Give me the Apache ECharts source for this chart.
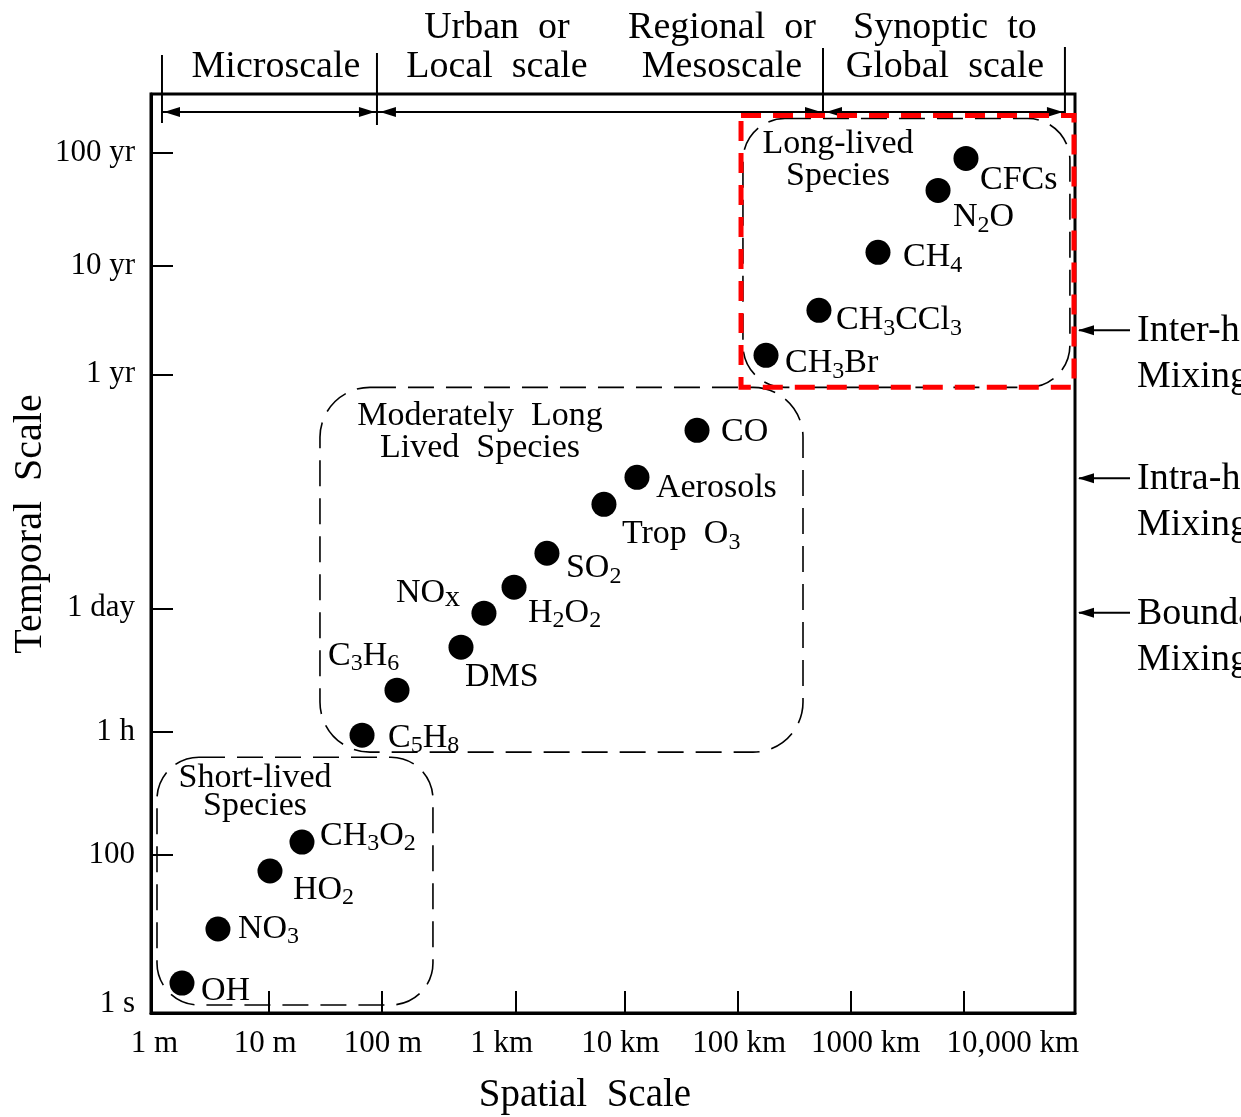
<!DOCTYPE html>
<html><head><meta charset="utf-8">
<script src="https://cdn.jsdelivr.net/npm/echarts@6/dist/echarts.min.js"></script>
<style>html,body{margin:0;padding:0;background:#fff}#c{width:1241px;height:1117px}</style>
</head><body><div id="c"></div>
<script>
const SERIF = '"Liberation Serif","Times New Roman",serif';

// Axis units are the schematic "decades" of the drawing (not a strict log scale)
const xMin = 0, xMax = 8.17, yMin = 0, yMax = 8.13;
const xTickPos = [1.043, 2.042, 3.227, 4.19, 5.19, 6.19, 7.19];
const xLabelPos = [0.03, 1.01, 2.05, 3.10, 4.15, 5.20, 6.32, 7.62];
const xLabels = ['1 m', '10 m', '100 m', '1 km', '10 km', '100 km', '1000 km', '10,000 km'];
const yTickPos = [1.40, 2.49, 3.58, 5.65, 6.61, 7.61];
const yLabelPos = [0.08, 1.40, 2.49, 3.58, 5.65, 6.61, 7.61];
const yLabels = ['1 s', '100', '1 h', '1 day', '1 yr', '10 yr', '100 yr'];

// Species (spatial position, temporal position)
const species = ['OH', 'NO3', 'HO2', 'CH3O2', 'C5H8', 'C3H6', 'DMS', 'NOx', 'H2O2', 'SO2', 'Trop O3', 'Aerosols', 'CO', 'CFCs', 'N2O', 'CH4', 'CH3CCl3', 'CH3Br'];
const spatial = [0.274, 0.592, 1.052, 1.335, 1.866, 2.175, 2.741, 2.944, 3.210, 3.501, 4.005, 4.297, 4.828, 7.206, 6.959, 6.428, 5.906, 5.438];
const temporal = [0.265, 0.743, 1.256, 1.512, 2.458, 2.856, 3.236, 3.537, 3.767, 4.067, 4.500, 4.739, 5.155, 7.560, 7.277, 6.729, 6.216, 5.818];

// Species groups (boxes)
const groupTitles = ['Short-lived\nSpecies', 'Moderately  Long\nLived  Species', 'Long-lived\nSpecies'];
const groupX0 = [0.053, 1.494, 5.234];
const groupX1 = [2.493, 5.765, 8.125];
const groupY0 = [0.071, 2.308, 5.535];
const groupY1 = [2.263, 5.535, 7.913];
const groupTitleX = [0.920, 2.909, 6.074];
const groupTitleY = [1.950, 5.137, 7.542];

// Highlight box (red)
const highlightBox = [5.217, 8.161, 5.535, 7.940];

// Spatial scale bands along the top
const scaleBounds = [0.097, 1.998, 5.942, 8.081];
const scaleNames = [['', 'Microscale'], ['Urban  or', 'Local  scale'], ['Regional  or', 'Mesoscale'], ['Synoptic  to', 'Global  scale']];
const scaleNameX = [1.105, 3.059, 5.049, 7.020];

// Mixing levels on the right
const mixingLevels = [6.04, 4.73, 3.54];
const mixingNames = [['Inter-hemispheric', 'Mixing'], ['Intra-hemispheric', 'Mixing'], ['Boundary Layer', 'Mixing']];

// Axis titles
const xTitle = 'Spatial  Scale';
const yTitle = 'Temporal  Scale';

// ---- presentation ----
const labelRich = {
  'OH': 'OH', 'NO3': 'NO{s|3}', 'HO2': 'HO{s|2}', 'CH3O2': 'CH{s|3}O{s|2}',
  'C5H8': 'C{s|5}H{s|8}', 'C3H6': 'C{s|3}H{s|6}', 'DMS': 'DMS', 'NOx': 'NO{x|x}',
  'H2O2': 'H{s|2}O{s|2}', 'SO2': 'SO{s|2}', 'Trop O3': 'Trop  O{s|3}', 'Aerosols': 'Aerosols',
  'CO': 'CO', 'CFCs': 'CFCs', 'N2O': 'N{s|2}O', 'CH4': 'CH{s|4}', 'CH3CCl3': 'CH{s|3}CCl{s|3}', 'CH3Br': 'CH{s|3}Br'
};
const labelOffset = {
  'OH': [19, 8], 'NO3': [20, 0], 'HO2': [23, 19], 'CH3O2': [18, -6], 'C5H8': [26, 3], 'C3H6': [-69, -34],
  'DMS': [4, 30], 'NOx': [-88, -20], 'H2O2': [14, 26], 'SO2': [19, 15], 'Trop O3': [18, 30], 'Aerosols': [19, 11],
  'CO': [24, 2], 'CFCs': [14, 22], 'N2O': [15, 27], 'CH4': [25, 5], 'CH3CCl3': [17, 10], 'CH3Br': [19, 8]
};
const rich = {
  s: { fontFamily: SERIF, fontSize: 24, lineHeight: 24, verticalAlign: 'bottom', color: '#000' },
  x: { fontFamily: SERIF, fontSize: 30, lineHeight: 30, verticalAlign: 'bottom', color: '#000' }
};

const pointData = species.map((n, i) => ({
  value: [spatial[i], temporal[i]],
  name: n,
  label: { offset: labelOffset[n] }
}));

const groupData = groupTitles.map((t, i) => [groupX0[i], groupY0[i], groupX1[i], groupY1[i], groupTitleX[i], groupTitleY[i]]);

const chart = echarts.init(document.getElementById('c'), null, { renderer: 'canvas' });

const option = {
  backgroundColor: '#fff',
  animation: false,
  grid: { left: 151, top: 94, width: 924, height: 919, show: true, borderColor: '#000', borderWidth: 3, containLabel: false, outerBoundsMode: 'none' },
  xAxis: {
    type: 'value', min: xMin, max: xMax,
    axisLine: { show: true, lineStyle: { color: '#000', width: 3 } },
    splitLine: { show: false },
    axisTick: { show: true, inside: true, length: 22, customValues: xTickPos, lineStyle: { color: '#000', width: 2 } },
    axisLabel: {
      customValues: xLabelPos, margin: 15, fontFamily: SERIF, fontSize: 31, color: '#000',
      formatter: v => xLabels[xLabelPos.findIndex(p => Math.abs(p - v) < 1e-6)] || ''
    }
  },
  yAxis: {
    type: 'value', min: yMin, max: yMax,
    axisLine: { show: true, lineStyle: { color: '#000', width: 3 } },
    splitLine: { show: false },
    axisTick: { show: true, inside: true, length: 22, customValues: yTickPos, lineStyle: { color: '#000', width: 2 } },
    axisLabel: {
      customValues: yLabelPos, margin: 16, fontFamily: SERIF, fontSize: 31, color: '#000',
      formatter: v => yLabels[yLabelPos.findIndex(p => Math.abs(p - v) < 1e-6)] || ''
    }
  },
  series: [
    {
      type: 'custom', name: 'groups', z: 1,
      data: groupData,
      encode: { x: [0, 2], y: [1, 3] },
      renderItem: (params, api) => {
        const i = params.dataIndex;
        const tl = api.coord([api.value(0), api.value(3)]);
        const br = api.coord([api.value(2), api.value(1)]);
        const tc = api.coord([api.value(4), api.value(5)]);
        return {
          type: 'group',
          children: [
            { type: 'rect', shape: { x: tl[0], y: tl[1], width: br[0] - tl[0], height: br[1] - tl[1], r: i === 1 ? 50 : 42 },
              style: { fill: 'none', stroke: '#000', lineWidth: 1.6, lineDash: [26, 12] } },
            { type: 'text', style: { text: groupTitles[i], x: tc[0], y: tc[1], align: 'center', verticalAlign: 'middle',
              fontFamily: SERIF, fontSize: 34, lineHeight: i === 0 ? 28 : 32, fill: '#000' } }
          ]
        };
      }
    },
    {
      type: 'scatter', name: 'species', z: 5,
      symbol: 'circle', symbolSize: 25,
      itemStyle: { color: '#000', opacity: 1 },
      data: pointData,
      label: {
        show: true, position: 'inside', align: 'left', verticalAlign: 'middle',
        fontFamily: SERIF, fontSize: 34, lineHeight: 40, color: '#000', opacity: 1,
        formatter: p => labelRich[p.name], rich: rich
      }
    },
    {
      type: 'custom', name: 'highlight', z: 10, clip: false,
      data: [highlightBox],
      encode: { x: [0, 1], y: [2, 3] },
      renderItem: (params, api) => {
        const tl = api.coord([api.value(0), api.value(3)]);
        const br = api.coord([api.value(1), api.value(2)]);
        return { type: 'rect', shape: { x: tl[0], y: tl[1], width: br[0] - tl[0], height: br[1] - tl[1] },
          style: { fill: 'none', stroke: '#ff0000', lineWidth: 5, lineDash: [20, 12] } };
      }
    }
  ]
};
chart.setOption(option);

// ---- annotations outside the plot: axis titles, scale bands (top) and mixing arrows (right) ----
const gfx = [];
const font38 = '38px ' + SERIF;
gfx.push({ type: 'text', x: 30, y: 524, rotation: Math.PI / 2,
  style: { text: yTitle, x: 0, y: 0, align: 'center', verticalAlign: 'middle', font: '40px ' + SERIF, fill: '#000' } });
gfx.push({ type: 'text', style: { text: xTitle, x: 585, y: 1096, align: 'center', verticalAlign: 'middle', font: '39px ' + SERIF, fill: '#000' } });

const arrowY = 112;
const bx = scaleBounds.map(v => chart.convertToPixel({ xAxisIndex: 0 }, v));
const divTop = [55, 53, 48, 47];
const divBot = [123, 125, 114, 114];
bx.forEach((x, i) => gfx.push({ type: 'line', shape: { x1: x, y1: divTop[i], x2: x, y2: divBot[i] }, style: { stroke: '#000', lineWidth: 2 } }));
gfx.push({ type: 'line', shape: { x1: bx[0], y1: arrowY, x2: bx[3], y2: arrowY }, style: { stroke: '#000', lineWidth: 2 } });
function head(tipX, tipY, dir) {
  return { type: 'polygon', shape: { points: [[tipX, tipY], [tipX + dir * 16, tipY - 5], [tipX + dir * 16, tipY + 5]] }, style: { fill: '#000' } };
}
gfx.push(head(bx[0] + 2, arrowY, 1));
gfx.push(head(bx[1] - 2, arrowY, -1));
gfx.push(head(bx[1] + 3, arrowY, 1));
gfx.push(head(bx[2] - 2, arrowY, -1));
gfx.push(head(bx[2] + 3, arrowY, 1));
gfx.push(head(bx[3] - 2, arrowY, -1));
scaleNames.forEach((lines, i) => {
  const cx = chart.convertToPixel({ xAxisIndex: 0 }, scaleNameX[i]);
  [28, 67].forEach((y, k) => {
    if (lines[k]) gfx.push({ type: 'text', style: { text: lines[k], x: cx, y: y, align: 'center', verticalAlign: 'middle', font: font38, fill: '#000' } });
  });
});
const rightX = 1075;
mixingLevels.forEach((v, i) => {
  const y = chart.convertToPixel({ yAxisIndex: 0 }, v);
  gfx.push({ type: 'line', shape: { x1: rightX + 4, y1: y, x2: 1130, y2: y }, style: { stroke: '#000', lineWidth: 2 } });
  gfx.push(head(rightX + 3, y, 1));
  gfx.push({ type: 'text', style: { text: mixingNames[i][0], x: 1137, y: y + 1, align: 'left', verticalAlign: 'middle', font: font38, fill: '#000' } });
  gfx.push({ type: 'text', style: { text: mixingNames[i][1], x: 1137, y: y + 47, align: 'left', verticalAlign: 'middle', font: font38, fill: '#000' } });
});
chart.setOption({ graphic: { elements: gfx } });
</script>
</body></html>
